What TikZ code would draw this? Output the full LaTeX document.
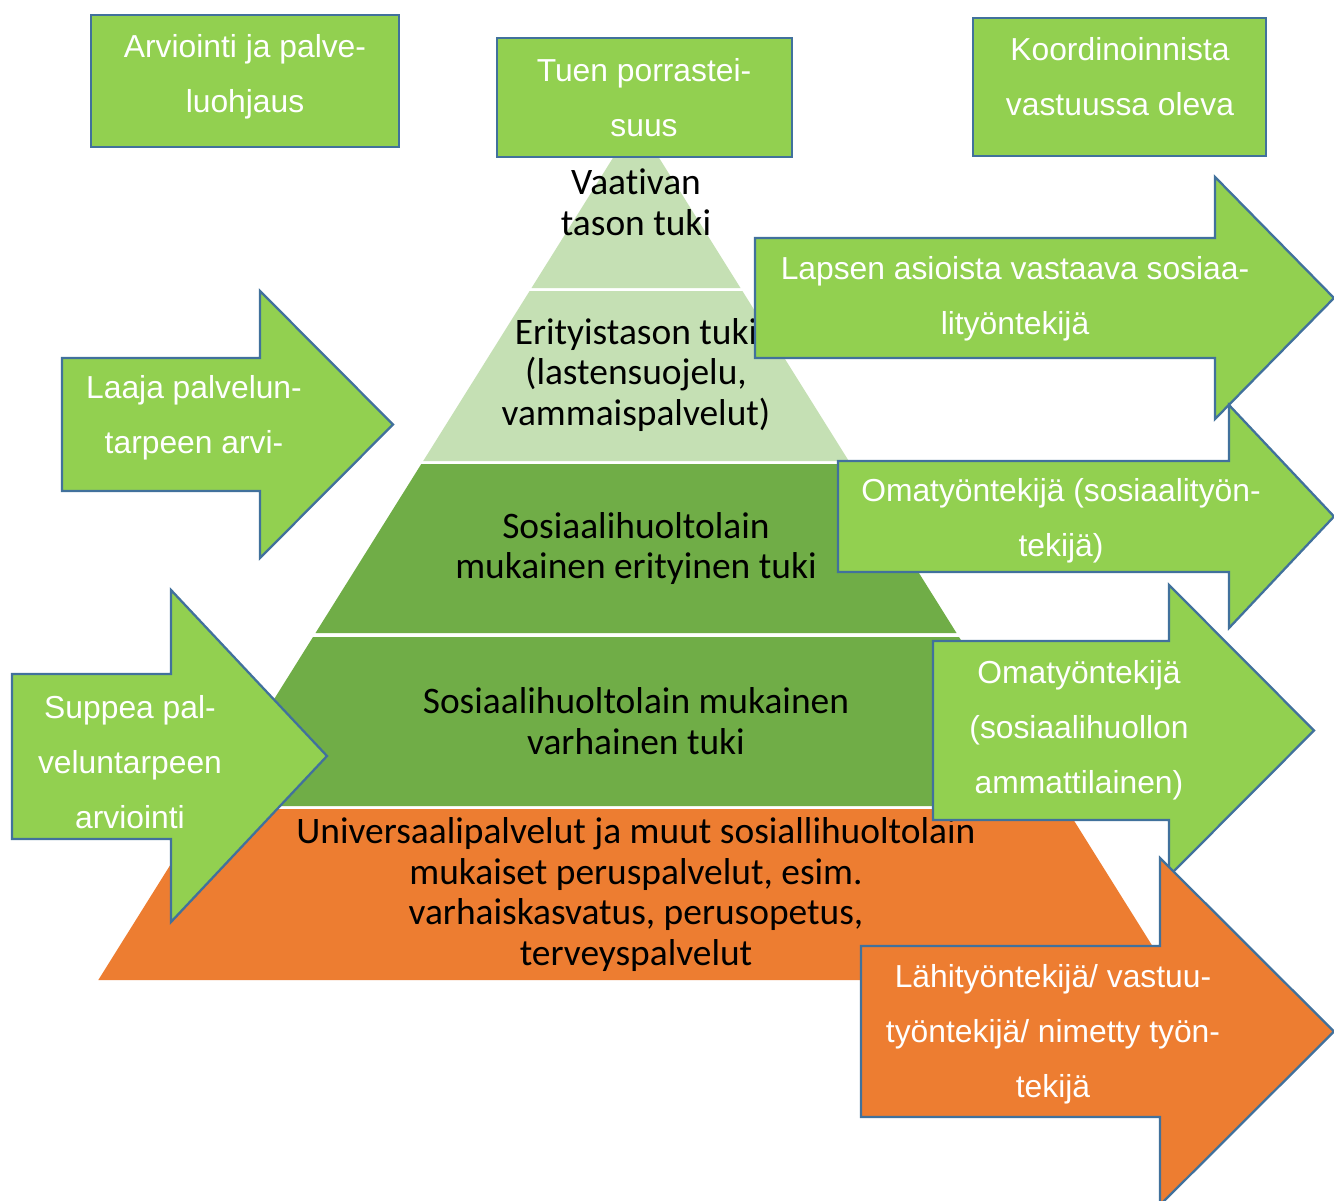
\documentclass[tikz,border=0pt]{standalone}
\usepackage{fontspec}
\setmainfont{Carlito}[Ligatures=NoCommon]
\newfontfamily\arialf{Liberation Sans}
\definecolor{agreen}{HTML}{92D050}
\definecolor{lgreen}{HTML}{C5E0B4}
\definecolor{dgreen}{HTML}{70AD47}
\definecolor{aorange}{HTML}{ED7D31}
\definecolor{oblue}{HTML}{41719C}
\tikzset{
  outl/.style={draw=oblue, line width=1.3pt, line join=miter},
  wtext/.style={text=white, font=\arialf\fontsize{18.1}{31.2}\selectfont, align=center, inner sep=0pt},
  ptext/.style={text=black, font=\fontsize{21.3}{23.2}\selectfont, align=center, inner sep=0pt},
}
% left, bodytop, bodybottom, headbase, headtop, headbottom, tipx, fill
\newcommand{\blkarrow}[8]{%
  \draw[outl, fill=#8] (#1,#2) -- (#4,#2) -- (#4,#5) -- (#7,{(#5+#6)/2}) -- (#4,#6) -- (#4,#3) -- (#1,#3) -- cycle;}
\begin{document}
\begin{tikzpicture}[x=0.02cm, y=-0.02cm]
\useasboundingbox (0,0) rectangle (1334,1200);
\clip (0,0) rectangle (1334,1200);
\fill[white] (0,0) rectangle (1334,1200);

% pyramid layers
\fill[lgreen] (636,121) -- (740.5,288) -- (531.5,288) -- cycle;
\fill[lgreen] (529.6,291) -- (742.4,291) -- (848.8,461) -- (423.2,461) -- cycle;
\fill[dgreen] (421.3,464) -- (850.7,464) -- (956.5,633) -- (315.5,633) -- cycle;
\fill[dgreen] (313,637) -- (959,637) -- (1064.8,806) -- (207.2,806) -- cycle;
\fill[aorange] (205.3,809) -- (1066.7,809) -- (1173.7,980) -- (98.3,980) -- cycle;

\node[ptext] (p1) at (636,202.5) {Vaativan\\tason tuki};
\node[ptext] (p2) at (636,375) {Erityistason tuki\\(lastensuojelu,\\vammaispalvelut)};
\node[ptext] (p3) at (636,548.5) {Sosiaalihuoltolain\\mukainen erityinen tuki};
\node[ptext] (p4) at (636,721.5) {Sosiaalihuoltolain mukainen\\varhainen tuki};
\node[ptext] (p5) at (636,894.5) {Universaalipalvelut ja muut sosiallihuoltolain\\mukaiset peruspalvelut, esim.\\varhaiskasvatus, perusopetus,\\terveyspalvelut};

% top boxes
\draw[outl, fill=agreen] (91,15) rectangle (399,147);
\node[wtext] (b1) at (245,77) {Arviointi ja palve-\\luohjaus};
\draw[outl, fill=agreen] (497,38) rectangle (792,157);
\node[wtext] (b2) at (644,98) {Tuen porrastei-\\suus};
\draw[outl, fill=agreen] (973,18) rectangle (1266,156);
\node[wtext] (b3) at (1120,77) {Koordinoinnista\\vastuussa oleva};

% left arrows
\blkarrow{62}{358}{491}{260}{291}{558}{393}{agreen}
\node[wtext] (e) at (194,417.5) {Laaja palvelun-\\tarpeen arvi-};
\blkarrow{12}{674}{839}{171}{590}{922}{327}{agreen}
\node[wtext] (f) at (130,762) {Suppea pal-\\veluntarpeen\\arviointi};

% right arrows
\blkarrow{755}{238}{358}{1215}{177}{419}{1334}{agreen}
\node[wtext] (a) at (1015,298.5) {Lapsen asioista vastaava sosiaa-\\lityöntekijä};
\blkarrow{838}{461}{572}{1229}{405}{628}{1334}{agreen}
\node[wtext] (b) at (1061,521) {Omatyöntekijä (sosiaalityön-\\tekijä)};
\blkarrow{933}{641}{820}{1169}{585}{876}{1314}{agreen}
\node[wtext] (c) at (1079,730.5) {Omatyöntekijä\\(sosiaalihuollon\\ammattilainen)};
\blkarrow{861}{946}{1117}{1160}{858}{1205}{1334}{aorange}
\node[wtext] (d) at (1053,1034) {Lähityöntekijä/ vastuu-\\työntekijä/ nimetty työn-\\tekijä};
\end{tikzpicture}
\end{document}
